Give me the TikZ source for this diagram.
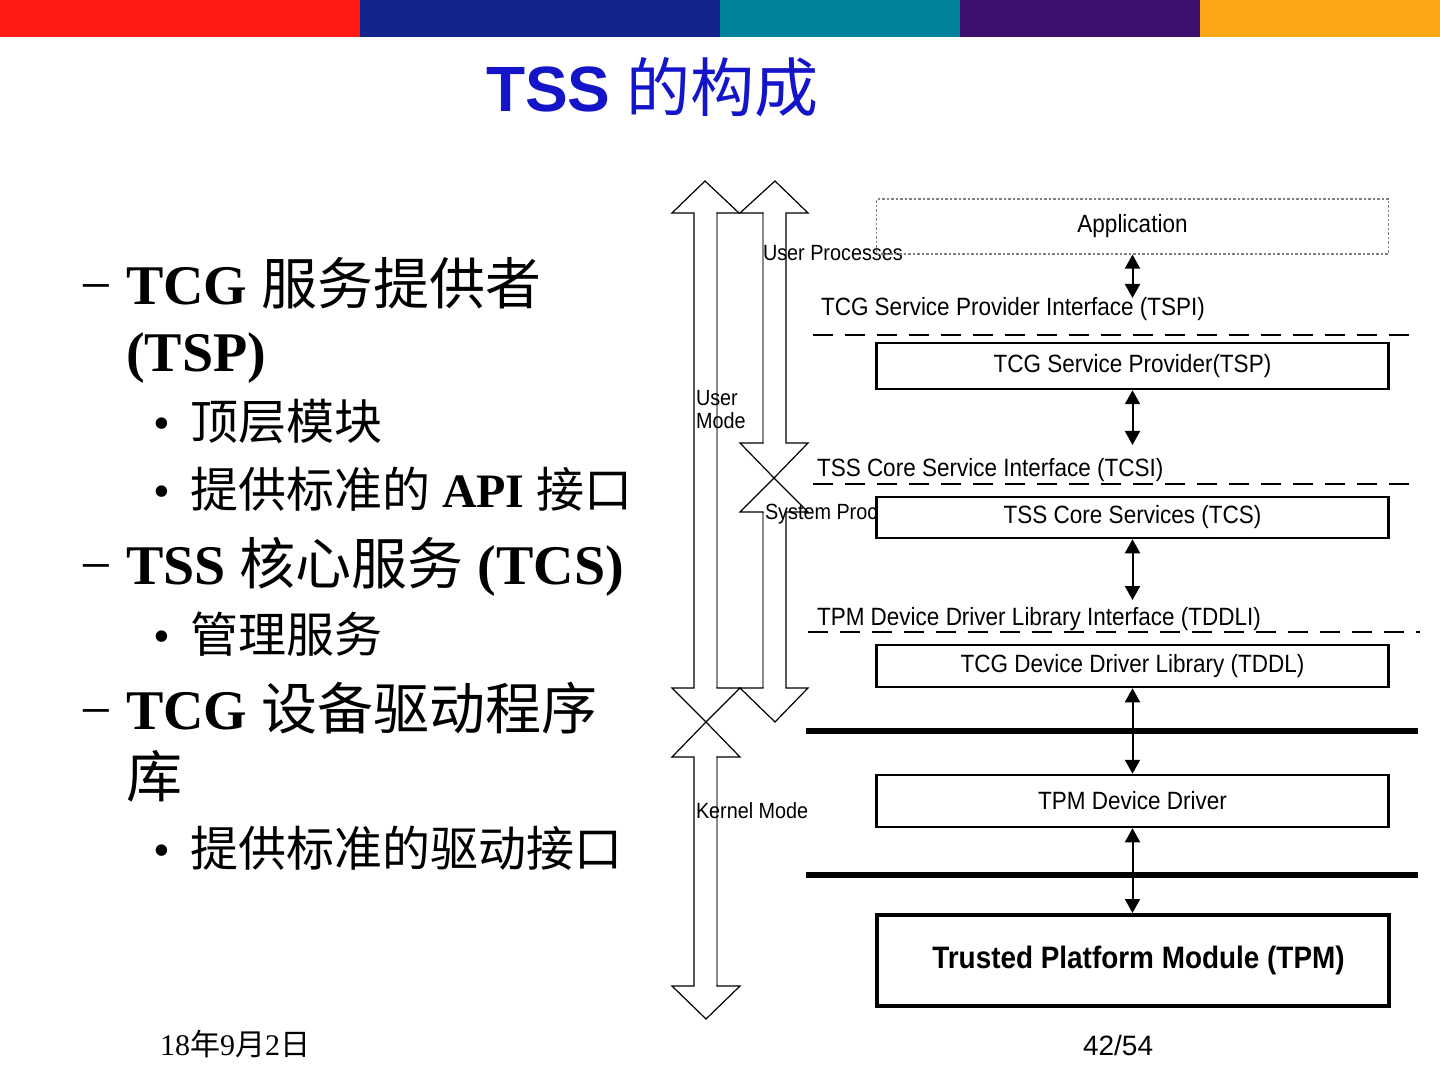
\documentclass[tikz,border=0pt]{standalone}
\usepackage{fontspec}
\setmainfont{Liberation Serif}
\newfontfamily\cjk{Noto Sans CJK SC}
\newfontfamily\arialf{Liberation Sans}
\newfontfamily\narrowf[FakeStretch=0.9]{Liberation Sans}
\usetikzlibrary{arrows.meta}
\definecolor{barred}{HTML}{FF1A14}
\definecolor{barnavy}{HTML}{10248C}
\definecolor{barteal}{HTML}{00829C}
\definecolor{barpurple}{HTML}{3D0F6E}
\definecolor{barorange}{HTML}{FFA617}
\definecolor{titleblue}{HTML}{1414C8}
\definecolor{shaftgray}{HTML}{8A8A8A}
\tikzset{
  txt/.style={anchor=base west, inner sep=0pt, outer sep=0pt},
  mainline/.style={txt, font=\fontsize{28}{34}\selectfont},
  subline/.style={txt, font=\fontsize{24}{29}\selectfont},
  lbl/.style={txt, font=\narrowf\fontsize{12.5}{14}\selectfont},
  sidelbl/.style={txt, font=\narrowf\fontsize{11}{13}\selectfont},
  layer/.style={draw, line width=1.25pt, fill=white, minimum width=256pt, inner sep=0pt,
    font=\narrowf\fontsize{12.5}{14}\selectfont},
  bigarrow/.style={draw=black, line width=0.6pt, fill=white, line join=miter},
  dbl/.style={{Triangle[length=7pt,width=7.5pt]}-{Triangle[length=7pt,width=7.5pt]}, line width=1pt},
  iface/.style={dashed, dash pattern=on 10pt off 6pt, line width=1pt},
  kline/.style={line width=2.6pt}
}
\begin{document}
\begin{tikzpicture}[x=0.5pt,y=-0.5pt]
\fill[white] (0,0) rectangle (1440,1080);
\useasboundingbox (0,0) rectangle (1440,1080);
% colour bar
\fill[barred] (0,0) rectangle (360,37);
\fill[barnavy] (360,0) rectangle (720,37);
\fill[barteal] (720,0) rectangle (960,37);
\fill[barpurple] (960,0) rectangle (1200,37);
\fill[barorange] (1200,0) rectangle (1440,37);
% title
\node[txt, text=titleblue] (title) at (486,112)
  {\fontsize{32}{38}\selectfont{\arialf\bfseries TSS} {\cjk 的构成}};
% left text
\node[mainline] (d1) at (80,305) {−};
\node[mainline] (t1) at (126,305) {\textbf{TCG} {\cjk 服务提供者}};
\node[mainline] (t1b) at (126,372) {\textbf{(TSP)}};
\node[subline] (b1) at (153,440) {•};
\node[subline] (s1) at (190,440) {\cjk 顶层模块};
\node[subline] (b2) at (153,508) {•};
\node[subline] (s2) at (190,508) {{\cjk 提供标准的} \textbf{API} {\cjk 接口}};
\node[mainline] (d2) at (80,584) {−};
\node[mainline] (t2) at (126,584) {\textbf{TSS} {\cjk 核心服务} \textbf{(TCS)}};
\node[subline] (b3) at (153,652) {•};
\node[subline] (s3) at (190,652) {\cjk 管理服务};
\node[mainline] (d3) at (80,729) {−};
\node[mainline] (t3) at (126,729) {\textbf{TCG} {\cjk 设备驱动程序}};
\node[mainline] (t3b) at (126,797) {\cjk 库};
\node[subline] (b4) at (153,866) {•};
\node[subline] (s4) at (190,866) {\cjk 提供标准的驱动接口};
% footer
\node[txt] (date) at (160,1055) {\fontsize{15}{18}\selectfont 18{\cjk 年}9{\cjk 月}2{\cjk 日}};
\node[txt] (page) at (1083,1055) {\arialf\fontsize{14}{17}\selectfont 42/54};
% big mode arrows
\draw[bigarrow] (705,181) -- (739,213) -- (717,213) -- (717,688) -- (740,688) -- (706,722)
  -- (672,688) -- (694,688) -- (694,213) -- (672,213) -- cycle;
\draw[bigarrow] (706,722) -- (740,757) -- (717,757) -- (717,986) -- (740,986) -- (706,1019)
  -- (672,986) -- (694,986) -- (694,757) -- (672,757) -- cycle;
\draw[bigarrow] (775,181) -- (808,213) -- (786,213) -- (786,443) -- (808,443) -- (774,478)
  -- (740,443) -- (763,443) -- (763,213) -- (740,213) -- cycle;
\draw[bigarrow] (774,478) -- (808,512) -- (786,512) -- (786,688) -- (808,688) -- (775,722)
  -- (740,688) -- (763,688) -- (763,512) -- (740,512) -- cycle;
\draw[shaftgray, line width=0.9pt] (717,214) -- (717,687);
\draw[shaftgray, line width=0.9pt] (717,758) -- (717,985);
\draw[shaftgray, line width=0.9pt] (763,214) -- (763,442);
\draw[shaftgray, line width=0.9pt] (763,513) -- (763,687);
% side labels
\node[sidelbl] (up) at (763,261) {User Processes};
\node[sidelbl] (um1) at (696,406) {User};
\node[sidelbl] (um2) at (696,429) {Mode};
\node[sidelbl] (sp) at (765,519) {System Proc};
\node[sidelbl] (km) at (696,818) {Kernel Mode};
% interface lines and labels
\node[lbl] (tspi) at (821,316) {TCG Service Provider Interface (TSPI)};
\draw[iface] (813,335) -- (1420,335);
\node[lbl] (tcsi) at (817,476) {TSS Core Service Interface (TCSI)};
\draw[iface] (813,484) -- (1420,484);
\node[lbl] (tddli) at (817,625) {TPM Device Driver Library Interface (TDDLI)};
\draw[iface] (808,632) -- (1420,632);
\draw[kline] (806,731) -- (1418,731);
\draw[kline] (806,875) -- (1418,875);
% layer boxes
\node[layer, draw=gray, densely dotted, line width=0.6pt, fill=none, minimum height=27.5pt] (app) at (1132.5,226.5) {Application};
\node[layer, minimum height=23pt] (tsp) at (1132.5,366) {TCG Service Provider(TSP)};
\node[layer, minimum height=20.5pt] (tcs) at (1132.5,517.5) {TSS Core Services (TCS)};
\node[layer, minimum height=21pt] (tddl) at (1132.5,666) {TCG Device Driver Library (TDDL)};
\node[layer, minimum height=26pt] (tpmdd) at (1132.5,801) {TPM Device Driver};
\node[layer, line width=2pt, minimum height=45.5pt, font=\narrowf\bfseries\fontsize{15.5}{18}\selectfont] (tpm) at (1132.5,960.5) {\hspace{6pt}Trusted Platform Module (TPM)};
% connectors
\coordinate (c1) at (1132.5,298);
\coordinate (c2) at (1132.5,445);
\coordinate (c3) at (1132.5,600);
\draw[dbl] (app.south) -- (c1);
\draw[dbl] (tsp.south) -- (c2);
\draw[dbl] (tcs.south) -- (c3);
\draw[dbl] (tddl.south) -- (tpmdd.north);
\draw[dbl] (tpmdd.south) -- (tpm.north);
\end{tikzpicture}
\end{document}
